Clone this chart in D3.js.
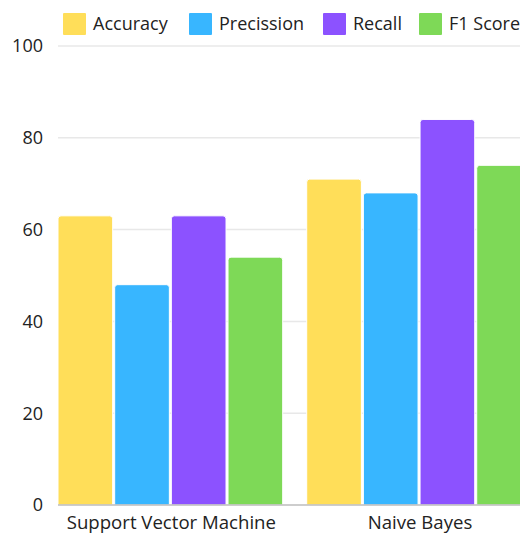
<!DOCTYPE html>
<html>
<head>
<meta charset="utf-8">
<script src="https://cdn.jsdelivr.net/npm/d3@7"></script>
<style>
  body { margin: 0; background: #fff; overflow: hidden; }
  #chart { width: 520px; height: 533px; }
  text { font-family: "Open Sans", sans-serif; fill: #222; }
</style>
</head>
<body>
<div id="chart"></div>
<script>
// data
const models = ["Support Vector Machine", "Naive Bayes"];
const metrics = ["Accuracy", "Precission", "Recall", "F1 Score"];
const accuracy = [63, 71];
const precission = [48, 68];
const recall = [63, 84];
const f1Score = [54, 74];
const yTicks = [0, 20, 40, 60, 80, 100];
const colors = ["#ffde59", "#38b6ff", "#8c52ff", "#7ed957"];

const series = [accuracy, precission, recall, f1Score];

let rows = models.map((m, i) => ({
    model: m,
    values: metrics.map((k, j) => ({ key: k, value: series[j][i] }))
}));

const width = 520, height = 533;

let svg = d3.select("#chart").append("svg")
    .attr("width", width)
    .attr("height", height);

// scales
let x0 = d3.scaleBand()
    .domain(models)
    .range([58, 533.4])
    .paddingInner(0.0885)
    .paddingOuter(0);

let x1 = d3.scaleBand()
    .domain(metrics)
    .range([0, x0.bandwidth()])
    .padding(0);

let y = d3.scaleLinear()
    .domain([0, 100])
    .range([505, 46]);

let color = d3.scaleOrdinal()
    .domain(metrics)
    .range(colors);

// grid lines
svg.append("g")
    .selectAll("line")
    .data(yTicks.filter(d => d > 0))
    .enter().append("line")
    .attr("x1", 58)
    .attr("x2", width)
    .attr("y1", d => y(d))
    .attr("y2", d => y(d))
    .attr("stroke", "#e8e8e8")
    .attr("stroke-width", 1.5);

// y-axis labels
svg.append("g")
    .selectAll("text")
    .data(yTicks)
    .enter().append("text")
    .attr("x", 43)
    .attr("y", d => y(d))
    .attr("dy", "0.35em")
    .attr("text-anchor", "end")
    .style("font-size", "18px")
    .text(d => d);

// bars, rounded top corners
function barPath(x, yTop, w, h, r) {
    r = Math.min(r, h);
    return `M${x},${yTop + h}V${yTop + r}Q${x},${yTop} ${x + r},${yTop}H${x + w - r}Q${x + w},${yTop} ${x + w},${yTop + r}V${yTop + h}Z`;
}

let groups = svg.append("g")
    .selectAll(".group")
    .data(rows)
    .enter().append("g")
    .attr("class", "group")
    .attr("transform", d => `translate(${x0(d.model)},0)`);

groups.selectAll("path")
    .data(d => d.values)
    .enter().append("path")
    .attr("d", d => barPath(x1(d.key), y(d.value), x1.bandwidth() - 2, y(0) - y(d.value), 3))
    .attr("fill", d => color(d.key))
    .attr("stroke", "#fff")
    .attr("stroke-width", 1);

// baseline
svg.append("line")
    .attr("x1", 58)
    .attr("x2", width)
    .attr("y1", y(0))
    .attr("y2", y(0))
    .attr("stroke", "#bdbdbd")
    .attr("stroke-width", 1.5);

// x labels
svg.append("g")
    .selectAll("text")
    .data(models)
    .enter().append("text")
    .attr("x", d => x0(d) + x0.bandwidth() / 2)
    .attr("y", 529)
    .attr("text-anchor", "middle")
    .style("font-size", "18.6px")
    .text(d => d);

// legend
const legendX = [63, 189, 323, 419];
let legend = svg.append("g")
    .selectAll(".legend")
    .data(metrics)
    .enter().append("g")
    .attr("class", "legend")
    .attr("transform", (d, i) => `translate(${legendX[i]},13)`);

legend.append("rect")
    .attr("width", 23)
    .attr("height", 22)
    .attr("rx", 1)
    .attr("fill", d => color(d));

legend.append("text")
    .attr("x", 30)
    .attr("y", 11)
    .attr("dy", "0.35em")
    .style("font-size", "18px")
    .text(d => d);
</script>
</body>
</html>
